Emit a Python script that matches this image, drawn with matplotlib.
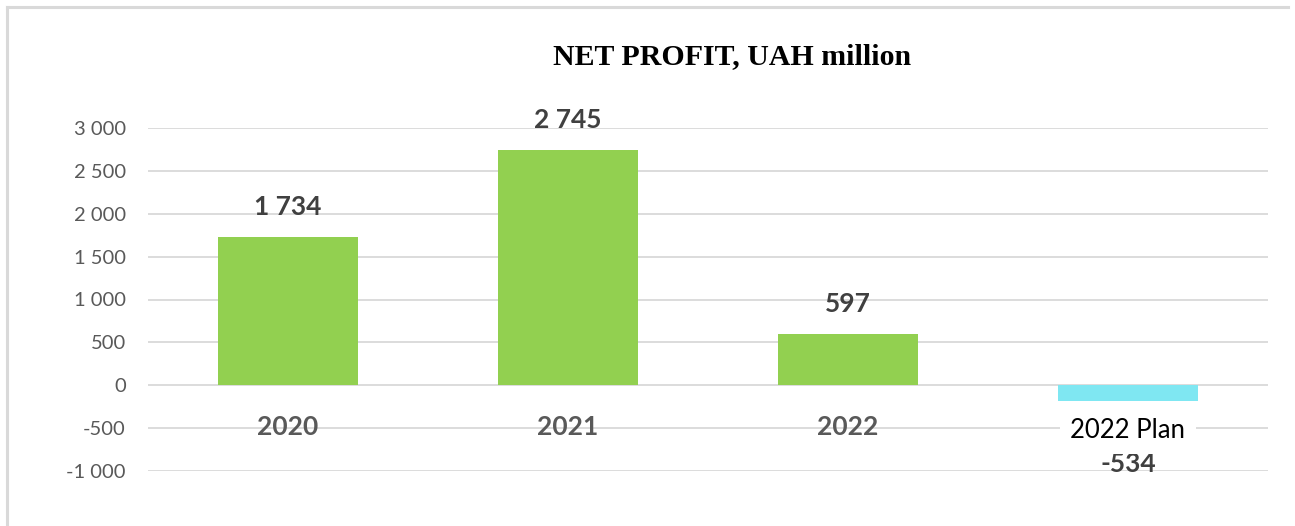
import matplotlib
matplotlib.use("Agg")
import matplotlib.pyplot as plt
from matplotlib.lines import Line2D

categories = ["2020", "2021", "2022", "2022 Plan"]
bar_values = [1734, 2745, 597, -180]
value_labels = ["1 734", "2 745", "597", "-534"]
y_ticks = [-1000, -500, 0, 500, 1000, 1500, 2000, 2500, 3000]
y_tick_labels = ["-1 000", "-500", "0", "500", "1 000", "1 500", "2 000", "2 500", "3 000"]
bar_colors = ["#92D050", "#92D050", "#92D050", "#7FE7F2"]

W, H = 1295, 526
fig = plt.figure(figsize=(W / 100, H / 100), dpi=100)
fig.patch.set_facecolor("white")

# frame lines (left and top)
fig.add_artist(Line2D([6.5 / W, 6.5 / W], [0, 1 - 6.5 / H], color="#D9D9D9", lw=2.2, transform=fig.transFigure))
fig.add_artist(Line2D([6.5 / W, 1288 / W], [1 - 7 / H, 1 - 7 / H], color="#D9D9D9", lw=2.2, transform=fig.transFigure))

left, right, top, bottom = 148, 1268, 128.3, 470.7
ax = fig.add_axes([left / W, 1 - bottom / H, (right - left) / W, (bottom - top) / H])
ax.set_xlim(-0.5, 3.5)
ax.set_ylim(-1000, 3000)
for s in ax.spines.values():
    s.set_visible(False)
ax.set_yticks(y_ticks)
ax.set_yticklabels(y_tick_labels, fontfamily="Lato", fontsize=14.5, color="#595959")
ax.tick_params(axis="y", length=0, pad=16)
ax.set_xticks([])
ax.yaxis.grid(True, color="#D9D9D9", lw=1.3)
ax.set_axisbelow(True)

x = list(range(len(categories)))
ax.bar(x, bar_values, width=0.5, color=bar_colors, zorder=2)

for i, (v, lab) in enumerate(zip(bar_values, value_labels)):
    off = 21.5 if v >= 0 else -46
    ax.annotate(lab, (i, v), xytext=(0, off), textcoords="offset points", ha="center", va="center",
                fontfamily="Lato", fontweight="bold", fontsize=19, color="#404040")

for i, cat in enumerate(categories):
    if i < 3:
        ax.annotate(cat, (i, 0), xytext=(0, -30), textcoords="offset points", ha="center", va="center",
                    fontfamily="Lato", fontweight="bold", fontsize=19, color="#595959")
    else:
        ax.annotate(cat, (i, 0), xytext=(0, -33), textcoords="offset points", ha="center", va="center",
                    fontfamily="Lato", fontsize=18.5, color="black",
                    bbox=dict(boxstyle="square,pad=0.4", fc="white", ec="none"))

fig.text(732 / W, 1 - 57 / H, "NET PROFIT, UAH million", ha="center", va="center",
         fontfamily="Liberation Serif", fontweight="bold", fontsize=21.5, color="black")

fig.savefig("out.png", dpi=100)
